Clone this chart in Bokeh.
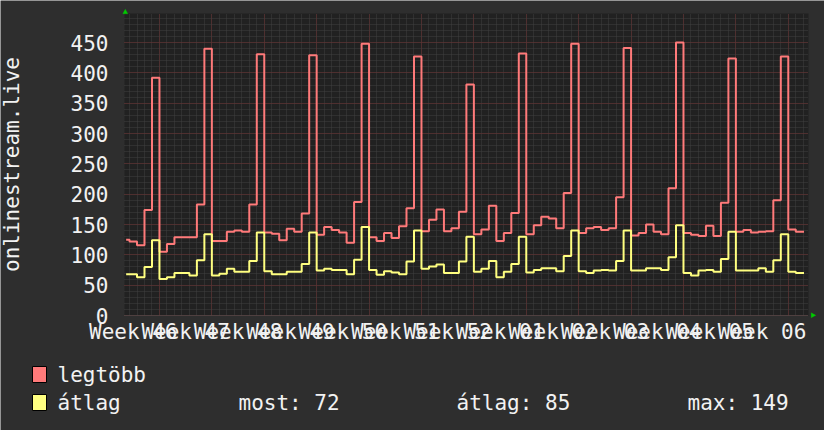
from bokeh.plotting import figure
from bokeh.models import FixedTicker, Range1d, Label, BoxAnnotation, PolyAnnotation
from bokeh.embed import file_html
from bokeh.resources import INLINE

# ---------------- data ----------------
# sample start times in days (0 = Monday of week 47); first sample is a partial day
days = [-4.45] + list(range(-4, 86))
data_end = 86.1
legtobb = [125, 122, 116, 174, 392,
           105, 118, 129, 129, 129, 183, 440,
           123, 123, 138, 140, 138, 183, 431,
           137, 135, 124, 143, 138, 168, 429,
           133, 146, 141, 137, 120, 187, 448,
           129, 123, 136, 128, 147, 177, 427,
           139, 158, 175, 139, 144, 171, 381,
           134, 142, 181, 123, 136, 169, 432,
           134, 149, 163, 160, 144, 202, 448,
           136, 144, 146, 141, 144, 195, 441,
           132, 136, 150, 138, 134, 210, 450,
           136, 133, 131, 148, 131, 186, 424,
           138, 141, 137, 138, 139, 190, 427,
           142, 138]
atlag = [68, 68, 63, 80, 124,
         60, 63, 70, 70, 66, 91, 134,
         66, 69, 77, 72, 72, 90, 137,
         73, 68, 68, 72, 72, 85, 137,
         74, 77, 75, 75, 68, 92, 146,
         75, 67, 73, 71, 68, 89, 140,
         77, 81, 84, 70, 70, 89, 130,
         72, 77, 90, 63, 72, 85, 130,
         71, 75, 78, 78, 73, 98, 140,
         73, 70, 74, 75, 74, 90, 140,
         74, 74, 78, 78, 75, 96, 149,
         70, 66, 74, 75, 72, 93, 138,
         74, 74, 74, 78, 72, 91, 134,
         72, 70]
series_names = ["legtöbb", "átlag"]
series_values = [legtobb, atlag]
series_colors = ["#ff7a7a", "#ffff80"]
week_starts = [0, 7, 14, 21, 28, 35, 42, 49, 56, 63, 70, 77, 84]
week_centers = [-3.5, 3.5, 10.5, 17.5, 24.5, 31.5, 38.5, 45.5, 52.5, 59.5, 66.5, 73.5, 80.5]
week_labels = ["Week 46", "Week 47", "Week 48", "Week 49", "Week 50", "Week 51",
               "Week 52", "Week 01", "Week 02", "Week 03", "Week 04", "Week 05", "Week 06"]
y_ticks = [0, 50, 100, 150, 200, 250, 300, 350, 400, 450]
y_minor = list(range(0, 500, 10))
x_minor = list(range(-4, 87))
y_title = "onlinestream.live"
stat_names = ["most", "átlag", "max"]
stat_values = [72, 85, 149]

# ---------------- layout / style ----------------
W, H = 824, 430
PL, PR, PT, PB = 124, 808, 13, 315          # plot-area edges in pixels
X0, X1 = -4.67, 86.7                        # visible time span (days)
Y0, Y1 = 0, 498                             # visible value span
kx = (PR - PL) / (X1 - X0)
ky = (PB - PT) / (Y1 - Y0)
x_range = Range1d(X0 - PL / kx, X1 + (W - PR) / kx)
y_range = Range1d(Y0 - (H - PB) / ky, Y1 + PT / ky)

FONT = "DejaVu Sans Mono"
FS = "21px"
TXT = "#f2f2f2"
BG = "#2e2e2e"
CANVAS = "#212121"
ARROW = "#00cc00"

p = figure(width=W, height=H, output_backend="svg", toolbar_location=None,
           x_range=x_range, y_range=y_range, min_border=0,
           background_fill_color=BG, border_fill_color=BG)
p.outline_line_color = None

# plot-area background
p.add_layout(BoxAnnotation(left=X0, right=X1, bottom=Y0, top=Y1, fill_color=CANVAS,
                           fill_alpha=1, line_color=None, level="image"))

# grids
p.xgrid.ticker = FixedTicker(ticks=week_starts, minor_ticks=x_minor)
p.ygrid.ticker = FixedTicker(ticks=y_ticks, minor_ticks=y_minor)
MAJ, MIN = "#6c2f2f", "#404040"
use_grid = True
try:
    p.xgrid.cross_bounds = (Y0, Y1)
    p.ygrid.cross_bounds = (X0, X1)
    p.xgrid.bounds = (X0, X1)
    p.ygrid.bounds = (Y0, Y1)
except AttributeError:
    use_grid = False
if use_grid:
    for g in (p.xgrid, p.ygrid):
        g.grid_line_color = MAJ
        g.grid_line_dash = "1 1"
        g.minor_grid_line_color = MIN
        g.minor_grid_line_dash = "1 1"
else:
    p.grid.visible = False
    p.segment(x0=x_minor, x1=x_minor, y0=Y0, y1=Y1, line_color=MIN, line_dash="1 1", level="underlay")
    p.segment(x0=X0, x1=X1, y0=y_minor, y1=y_minor, line_color=MIN, line_dash="1 1", level="underlay")
    p.segment(x0=week_starts, x1=week_starts, y0=Y0, y1=Y1, line_color=MAJ, line_dash="1 1", level="underlay")
    p.segment(x0=X0, x1=X1, y0=y_ticks, y1=y_ticks, line_color=MAJ, line_dash="1 1", level="underlay")

# axes, pinned to the plot-area edges
p.xaxis.fixed_location = Y0
p.yaxis.fixed_location = X0
p.xaxis.bounds = (X0, X1)
p.yaxis.bounds = (Y0, Y1)
p.xaxis.ticker = FixedTicker(ticks=week_centers)
p.xaxis.major_label_overrides = {c: l for c, l in zip(week_centers, week_labels)}
p.yaxis.ticker = FixedTicker(ticks=y_ticks)
for ax in (p.xaxis, p.yaxis):
    ax.major_tick_line_color = None
    ax.minor_tick_line_color = None
    ax.major_tick_out = 0
    ax.major_tick_in = 0
    ax.major_label_text_font = FONT
    ax.major_label_text_font_size = FS
    ax.major_label_text_color = TXT
p.xaxis.axis_line_color = "#505050"
p.xaxis.axis_line_dash = "1 1"
p.yaxis.axis_line_color = None
p.xaxis.major_label_standoff = 4
p.yaxis.major_label_standoff = 16
p.yaxis.axis_label = y_title
p.yaxis.axis_label_text_font = FONT
p.yaxis.axis_label_text_font_size = FS
p.yaxis.axis_label_text_font_style = "normal"
p.yaxis.axis_label_text_color = TXT
p.yaxis.axis_label_standoff = 44

# data lines
for vals, col in zip(series_values, series_colors):
    p.step(x=days + [data_end], y=vals + [vals[-1]], mode="after",
           line_color=col, line_width=2)

# small green arrow heads at the axis ends (screen px, origin bottom-left)
p.add_layout(PolyAnnotation(xs=[122.3, 127.3, 124.8], ys=[416.7, 416.7, 421.3],
                            xs_units="screen", ys_units="screen",
                            fill_color=ARROW, fill_alpha=1, line_color=ARROW, line_width=1))
p.add_layout(PolyAnnotation(xs=[810.7, 810.7, 815.3], ys=[117.7, 112.7, 115.2],
                            xs_units="screen", ys_units="screen",
                            fill_color=ARROW, fill_alpha=1, line_color=ARROW, line_width=1))

# legend
for i, (name, col) in enumerate(zip(series_names, series_colors)):
    p.add_layout(BoxAnnotation(left=32, right=46, top=64 - 28 * i, bottom=48 - 28 * i,
                               left_units="screen", right_units="screen",
                               top_units="screen", bottom_units="screen",
                               fill_color=col, fill_alpha=1, line_color="black",
                               line_width=1, line_alpha=1))
    p.add_layout(Label(x=57, y=56 - 28 * i, x_units="screen", y_units="screen",
                       text=name, text_baseline="middle", text_font=FONT,
                       text_font_size=FS, text_color=TXT))

stat_x = [238, 456, 687]
for sx, n, v in zip(stat_x, stat_names, stat_values):
    p.add_layout(Label(x=sx, y=28, x_units="screen", y_units="screen",
                       text=f"{n}: {v}", text_baseline="middle", text_font=FONT,
                       text_font_size=FS, text_color=TXT))

html = file_html(p, INLINE)
html = html.replace("<body>", '<body style="background-color:%s;">' % BG, 1)
open("out.html", "w").write(html)
